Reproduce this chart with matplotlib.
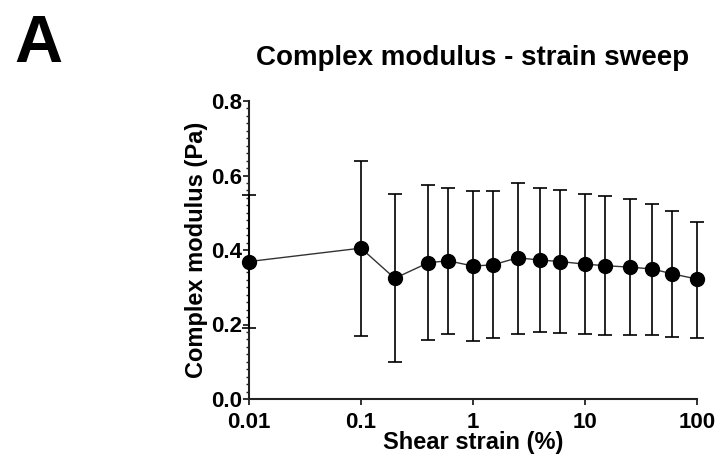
import matplotlib
matplotlib.use("Agg")
import matplotlib.pyplot as plt
import numpy as np
from matplotlib.ticker import FixedLocator, MultipleLocator, FuncFormatter

plt.rcParams['font.family'] = ['Liberation Sans', 'DejaVu Sans']
plt.rcParams['font.weight'] = 'bold'

strain = [0.01, 0.1, 0.2, 0.4, 0.6, 1, 1.5, 2.5, 4, 6, 10, 15, 25, 40, 60, 100]
modulus = [0.369, 0.405, 0.324, 0.366, 0.371, 0.357, 0.360, 0.379, 0.373, 0.369,
           0.362, 0.358, 0.354, 0.349, 0.336, 0.322]
err_low = [0.190, 0.170, 0.099, 0.158, 0.174, 0.155, 0.163, 0.174, 0.179, 0.177,
           0.174, 0.172, 0.173, 0.172, 0.167, 0.164]
err_high = [0.548, 0.640, 0.550, 0.574, 0.566, 0.558, 0.558, 0.581, 0.566, 0.562,
            0.551, 0.546, 0.536, 0.524, 0.504, 0.476]
x_ticks = [0.01, 0.1, 1, 10, 100]
x_tick_labels = ["0.01", "0.1", "1", "10", "100"]
y_ticks = [0.0, 0.2, 0.4, 0.6, 0.8]

fig = plt.figure(figsize=(7.19, 4.55), dpi=100)
ax = fig.add_axes([249/719, 1-399/455, (697-249)/719, (399-101)/455])

y = np.array(modulus)
yerr = np.array([y - np.array(err_low), np.array(err_high) - y])
ax.errorbar(strain, modulus, yerr=yerr, fmt='o', color='black', ecolor='black',
            elinewidth=1.2, capsize=5, capthick=1.2, markersize=10, zorder=3,
            clip_on=False)
ax.plot(strain, modulus, color='#333333', lw=1.0, zorder=2, clip_on=False)

ax.set_xscale('log')
ax.set_xlim(0.01, 100)
ax.set_ylim(0, 0.8)
ax.xaxis.set_major_locator(FixedLocator(x_ticks))
ax.xaxis.set_minor_locator(FixedLocator([]))
ax.set_xticks(x_ticks)
ax.set_xticklabels(x_tick_labels)
ax.set_yticks(y_ticks)
ax.yaxis.set_major_formatter(FuncFormatter(lambda v, p: f"{v:.1f}"))
ax.yaxis.set_minor_locator(MultipleLocator(0.02))

for s in ['top', 'right']:
    ax.spines[s].set_visible(False)
for s in ['left', 'bottom']:
    ax.spines[s].set_linewidth(1.5)
    ax.spines[s].set_color('#222222')

ax.tick_params(axis='both', which='major', labelsize=16, width=1.3, length=4,
               direction='out', color='#222222', pad=1)
ax.tick_params(axis='x', which='major', pad=5)
ax.tick_params(axis='y', which='minor', width=1.0, length=2, color='#222222')

ax.set_xlabel("Shear strain (%)", fontsize=17, fontweight='bold', labelpad=-1)
ax.set_ylabel("Complex modulus (Pa)", fontsize=17, fontweight='bold', labelpad=2)

fig.text(0.657, 1-65/455, "Complex modulus - strain sweep", fontsize=20,
         fontweight='bold', ha='center', va='baseline')
fig.text(14/719, 1-62/455, "A", fontsize=48, fontweight='bold', ha='left',
         va='baseline')

fig.savefig("out.png", dpi=100)
